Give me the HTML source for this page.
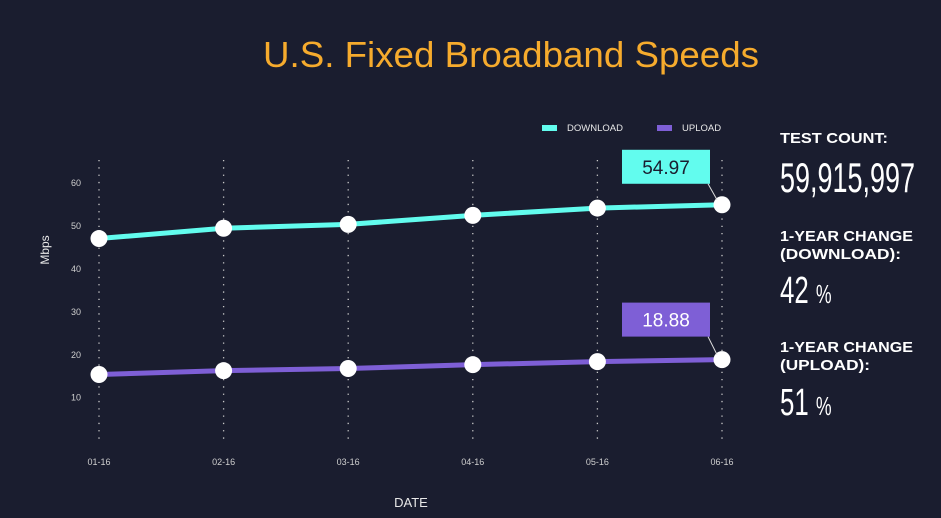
<!DOCTYPE html>
<html><head><meta charset="utf-8"><style>
html,body{margin:0;padding:0;background:#1a1d2f;width:941px;height:518px;overflow:hidden}
svg{display:block}
</style></head><body>
<svg id="chart" width="941" height="518" xmlns="http://www.w3.org/2000/svg" font-family="Liberation Sans, sans-serif">
<rect width="941" height="518" fill="#1a1d2f"/>
<text x="511" y="67" text-anchor="middle" fill="#f6ab2d" font-size="36" textLength="496" lengthAdjust="spacingAndGlyphs">U.S. Fixed Broadband Speeds</text>
<g>
<rect x="542" y="125" width="15" height="6" fill="#62fcee"/>
<text x="567" y="131" fill="#e8e8e8" font-size="9.5">DOWNLOAD</text>
<rect x="657" y="125" width="15" height="6" fill="#7e5fd6"/>
<text x="682" y="131" fill="#e8e8e8" font-size="9.5">UPLOAD</text>
</g>
<text transform="translate(49,250) rotate(-90)" text-anchor="middle" fill="#e8e8e8" font-size="12">Mbps</text>
<text x="411" y="507" text-anchor="middle" fill="#e8e8e8" font-size="13">DATE</text>
<g id="grid"></g><g id="yticks"></g><g id="xticks"></g><g id="lines"></g><g id="pts"></g><g id="callouts"></g>
<g>
<text x="780" y="143" fill="#fff" font-size="15" font-weight="bold" textLength="108" lengthAdjust="spacingAndGlyphs">TEST COUNT:</text>
<text x="780" y="192" fill="#fff" font-size="42" textLength="135" lengthAdjust="spacingAndGlyphs">59,915,997</text>
<text x="780" y="241" fill="#fff" font-size="15" font-weight="bold" textLength="133" lengthAdjust="spacingAndGlyphs">1-YEAR CHANGE</text>
<text x="780" y="259" fill="#fff" font-size="15" font-weight="bold" textLength="121" lengthAdjust="spacingAndGlyphs">(DOWNLOAD):</text>
<text x="780" y="303" fill="#fff" font-size="38" transform="translate(780,0) scale(0.68,1) translate(-780,0)">42 <tspan font-size="26">%</tspan></text>
<text x="780" y="352" fill="#fff" font-size="15" font-weight="bold" textLength="133" lengthAdjust="spacingAndGlyphs">1-YEAR CHANGE</text>
<text x="780" y="370" fill="#fff" font-size="15" font-weight="bold" textLength="90" lengthAdjust="spacingAndGlyphs">(UPLOAD):</text>
<text x="780" y="415" fill="#fff" font-size="38" transform="translate(780,0) scale(0.68,1) translate(-780,0)">51 <tspan font-size="26">%</tspan></text>
</g>
</svg>
<script>
const categories=["01-16","02-16","03-16","04-16","05-16","06-16"];
const download=[47.1,49.5,50.4,52.5,54.2,54.97];
const upload=[15.4,16.3,16.8,17.7,18.4,18.88];
const yTicks=[10,20,30,40,50,60];
const NS="http://www.w3.org/2000/svg";
function x(i){return 99+i*124.6;}
function y(v){return 397.7-(v-10)*4.29;}
function mk(tag,attrs,parent){const e=document.createElementNS(NS,tag);for(const k in attrs)e.setAttribute(k,attrs[k]);document.getElementById(parent).appendChild(e);return e;}
categories.forEach((c,i)=>{
 const g=mk('line',{x1:x(i),x2:x(i),y1:160,y2:440,stroke:'#c8c8c8','stroke-width':1.3,'stroke-dasharray':'1.3 6'},'grid');
 
 
 const t=mk('text',{x:x(i),y:465,'text-anchor':'middle',fill:'#cfcfcf','font-size':9},'xticks');t.textContent=c;
 
 
});
yTicks.forEach(v=>{
 const t=mk('text',{x:76,y:y(v)+3,'text-anchor':'middle',fill:'#cfcfcf','font-size':9},'yticks');t.textContent=v;
 
 
});
[[download,'#62fcee','download'],[upload,'#7e5fd6','upload']].forEach(([d,col,n])=>{
 const l=mk('polyline',{points:d.map((v,i)=>x(i)+','+y(v)).join(' '),fill:'none',stroke:col,'stroke-width':5},'lines');
 
 
 d.forEach((v,i)=>{const p=mk('circle',{cx:x(i),cy:y(v),r:8.5,fill:'#fff'},'pts');
  
  });
 const li=d.length-1,cx=x(li),cy=y(d[li]);
 const bx=cx-100,by=cy-(n==='download'?55:57);
 mk('line',{x1:bx+86,y1:by+34,x2:cx-5,y2:cy-5,stroke:'#ddd','stroke-width':1},'callouts');
 const r=mk('rect',{x:bx,y:by,width:88,height:34,fill:col},'callouts');
 
 
 const t=mk('text',{x:bx+44,y:by+24,'text-anchor':'middle',fill:n==='download'?'#1a1d2f':'#fff','font-size':19},'callouts');
 t.textContent=d[li].toFixed(2);
 
 
});
</script>
</body></html>
